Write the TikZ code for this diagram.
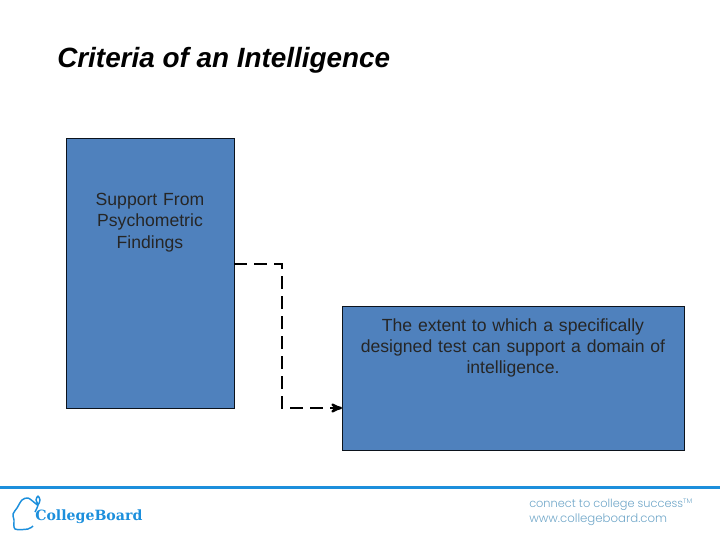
\documentclass[tikz,border=0pt]{standalone}
\usepackage{fontspec}
\setmainfont{Liberation Sans}
\newfontfamily\logofont{DejaVu Serif}
\newfontfamily\tagfont{Poppins Light}
\usetikzlibrary{positioning,arrows,calc}
\definecolor{boxblue}{HTML}{4F81BD}
\definecolor{boardblue}{HTML}{1C8FDC}
\definecolor{tagblue}{HTML}{6FA6C8}

\begin{document}
\begin{tikzpicture}[x=.75pt, y=-.75pt, >=stealth',
box/.style={draw=black!85!boxblue, fill=boxblue, line width=.75pt, outer sep=0pt},
boxlabel/.style={text centered, inner sep=0pt, text=black!85, font=\fontsize{13.2}{16}\selectfont},
link/.style={->, line width=1.7pt, dash pattern=on 9.5pt off 5.5pt}
]
\useasboundingbox (0,0) rectangle (720,540);

\node (title) [anchor=west, inner sep=0pt, font=\fontsize{20.9}{24}\selectfont\bfseries\itshape] at (57,60) {Criteria of an Intelligence};

\node (support) [box, minimum width=126pt, minimum height=202.5pt] at (150,273) {};
\node (extent) [box, minimum width=256.5pt, minimum height=108pt, right=81pt of support.south east, yshift=22.5pt] {};
\node (supportlabel) [boxlabel, text width=100pt, below=41.2pt of support.north] {Support From\\Psychometric\\Findings};
\node (extentlabel) [boxlabel, text width=245pt, below=9.2pt of extent.north] {The extent to which a specifically\\designed test can support a domain of\\intelligence.};

\draw[link] ($(support.east)+(0,-9)$) -- ++(48,0) |- (support.south -| extent.west);

% footer
\fill[boardblue] (0,485.5) rectangle (720,488.5);
\draw[boardblue, line width=1.1pt, line join=round] plot[smooth] coordinates {(33,526) (28,529) (15,529) (14,520) (13,514) (17,508) (22,500) (28,498) (35,503) (38,505) (40,500) (38,496) (36,500) (38,505) (35,512)};
\node (logo) [anchor=west, inner sep=0pt, text=boardblue, font=\logofont\bfseries\fontsize{10.6}{12}\selectfont] at (35,517) {CollegeBoard};
\node (tagline) [anchor=west, inner sep=0pt, text=tagblue, font=\tagfont\fontsize{8.5}{12}\selectfont] at (529,505) {connect to college success\raisebox{3pt}{\fontsize{5}{5}\selectfont TM}};
\node (website) [anchor=west, inner sep=0pt, text=tagblue, font=\tagfont\fontsize{8.8}{12}\selectfont] at (529,520) {www.collegeboard.com};

\end{tikzpicture}
\end{document}
